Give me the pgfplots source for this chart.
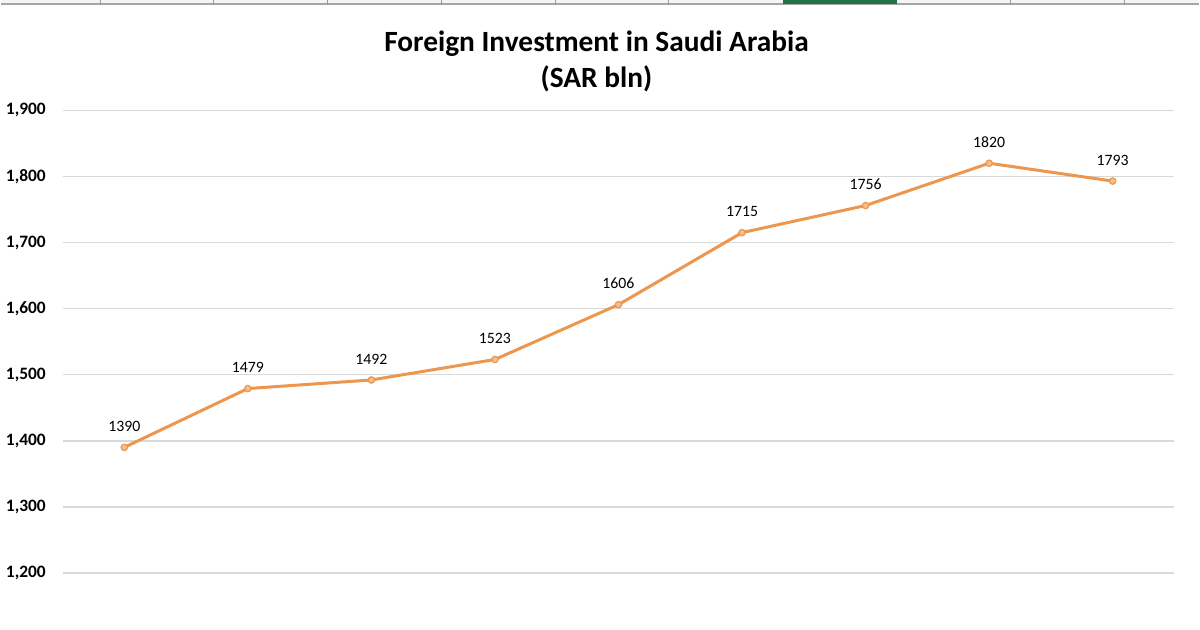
\documentclass[border=0pt]{standalone}
\usepackage{pgfplots}
\pgfplotsset{compat=1.18}
\usepackage{fontspec}
\setmainfont{Carlito}
\definecolor{lineor}{RGB}{237,150,78}
\definecolor{markfill}{RGB}{246,190,140}
\definecolor{gridc}{RGB}{217,217,217}
\definecolor{xlgreen}{RGB}{33,115,70}
\begin{document}
\begin{tikzpicture}[x=0.5pt,y=0.5pt]
\begin{axis}[
  at={(0,0)}, anchor=south west,
  scale only axis,
  width=556.5pt, height=260pt,
  xmin=-0.5, xmax=8.5,
  ymin=1113.8, ymax=1900,
  axis line style={draw=none},
  major tick length=0pt,
  clip=false,
  ytick={1200,1300,...,1900},
  xtick=\empty,
  ymajorgrids,
  grid style={gridc, line width=0.8pt},
  /pgf/number format/assume math mode=true,
  /pgf/number format/1000 sep={,},
  yticklabel style={font=\fontsize{8.7}{10}\selectfont\bfseries, anchor=west, inner sep=0pt, xshift=-28.5pt},
  yticklabel pos=left,
]
\addplot[lineor, line width=1.5pt, mark=*, mark size=1.6pt,
  mark options={fill=markfill, draw=lineor, line width=0.6pt},
  nodes near coords={\pgfmathprintnumber[1000 sep={}]{\pgfplotspointmeta}},
  every node near coord/.append style={font=\fontsize{7.9}{9}\selectfont, anchor=south, inner sep=0pt, yshift=7.5pt, text=black}]
  coordinates {(0,1390) (1,1479) (2,1492) (3,1523) (4,1606) (5,1715) (6,1756) (7,1820) (8,1793)};
\end{axis}
% title
\node[font=\fontsize{14.7}{18}\selectfont\bfseries, align=center, anchor=center] at (534.5,569) {Foreign Investment in Saudi Arabia\\(SAR bln)};
% Excel column header remnant
\fill[black!4] (-62,630) rectangle (1138,627);
\draw[black!35, line width=0.6pt] (-62,626.5) -- (1138,626.5);
\foreach \xx in {100,213,327,441,555,669,897,1011,1125} \draw[black!40, line width=0.5pt] (\xx-62,630) -- (\xx-62,625);
\fill[xlgreen] (783-62,630) rectangle (897-62,626);
\useasboundingbox (-62,0) rectangle (1138,630);
\end{tikzpicture}
\end{document}
